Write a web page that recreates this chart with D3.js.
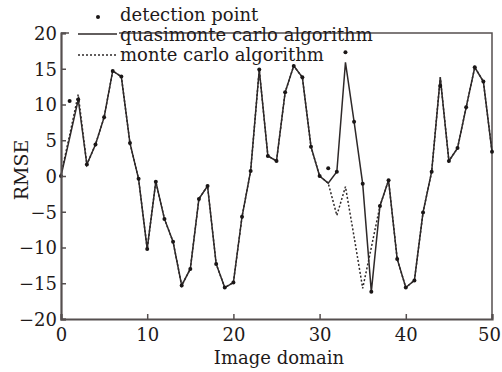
<!DOCTYPE html>
<html><head><meta charset="utf-8">
<script src="https://cdn.jsdelivr.net/npm/d3@7"></script>
<style>body{margin:0;background:#fff}svg{display:block}</style>
</head><body>
<script>
const xs = d3.range(0, 51);
const quasi = [0,5.3,10.7,1.6,4.4,8.2,14.7,13.9,4.6,-0.4,-10.2,-0.8,-6.0,-9.2,-15.3,-13.0,-3.2,-1.4,-12.3,-15.6,-14.9,-5.7,0.7,14.9,2.8,2.1,11.7,15.4,13.8,4.1,0,-1.0,0.6,15.9,7.6,-1.1,-16.2,-4.2,-0.6,-11.6,-15.6,-14.6,-5.1,0.6,13.8,2.1,3.9,9.6,15.2,13.2,3.4];
const monte = [0.2,5.7,11.4,1.6,4.4,8.2,14.7,13.9,4.6,-0.4,-10.2,-0.8,-6.0,-9.2,-15.3,-13.0,-3.2,-1.4,-12.3,-15.6,-14.9,-5.7,0.7,14.9,2.8,2.1,11.7,15.4,13.8,4.1,0,-1.0,-5.5,-1.5,-8.5,-15.7,-10.0,-4.2,-0.6,-11.6,-15.6,-14.6,-5.1,0.6,13.8,2.1,3.9,9.6,15.2,13.2,3.4];
const detect = [0,10.5,10.7,1.6,4.4,8.2,14.7,13.9,4.6,-0.4,-10.2,-0.8,-6.0,-9.2,-15.3,-13.0,-3.2,-1.4,-12.3,-15.6,-14.9,-5.7,0.7,14.9,2.8,2.1,11.7,15.4,13.8,4.1,0,1.1,0.6,17.3,7.6,-1.1,-16.2,-4.2,-0.6,-11.6,-15.6,-14.6,-5.1,0.6,12.6,2.1,3.9,9.6,15.2,13.2,3.4];
const xTicks = [0,10,20,30,40,50];
const yTicks = [-20,-15,-10,-5,0,5,10,15,20];
const legendLabels = ["detection point","quasimonte carlo algorithm","monte carlo algorithm"];

const W = 502, H = 372;
const L = 61, R = 492, T = 33, B = 319;
const ink = "#2e2929", frame = "#554f4f";
const font = "'DejaVu Serif', serif";

const svg = d3.select("body").append("svg").attr("width", W).attr("height", H);
const x = d3.scaleLinear().domain([0,50]).range([L,R]);
const y = d3.scaleLinear().domain([-20,20]).range([B,T]);

// frame top/right
svg.append("path").attr("d", `M${L},${T}H${R}V${B}`).attr("fill","none").attr("stroke",frame).attr("stroke-width",1.5);

const line = d3.line().x((d,i)=>x(xs[i])).y(d=>y(d));
svg.append("path").datum(monte).attr("d", line).attr("fill","none").attr("stroke",ink).attr("stroke-width",1.5).attr("stroke-dasharray","2,2");
svg.append("path").datum(quasi).attr("d", line).attr("fill","none").attr("stroke",ink).attr("stroke-width",1.5);
svg.append("g").selectAll("circle").data(detect).join("circle")
  .attr("cx",(d,i)=>x(xs[i])).attr("cy",d=>y(d)).attr("r",2).attr("fill","#1a1616");

// axes
const ax = svg.append("g").attr("transform",`translate(0,${B})`)
  .call(d3.axisBottom(x).tickValues(xTicks).tickSize(-5).tickPadding(8).tickFormat(d3.format("d")));
const ay = svg.append("g").attr("transform",`translate(${L},0)`)
  .call(d3.axisLeft(y).tickValues(yTicks).tickSize(-5).tickPadding(4).tickFormat(d=>d<0?"\u2212"+Math.abs(d):d));
[ax,ay].forEach(g=>{
  g.select(".domain").attr("stroke",frame).attr("stroke-width",2.2);
  g.selectAll(".tick line").attr("stroke",frame).attr("stroke-width",1.5);
  g.selectAll("text").attr("font-family",font).attr("font-size",18).attr("fill","#1e1a1a");
});
ay.selectAll("text").attr("dy","0.35em");
ax.selectAll("text").attr("dy","0.75em").attr("dx",d=>d===50?-3:0);

svg.append("text").attr("x",279).attr("y",364).attr("text-anchor","middle")
  .attr("font-family",font).attr("font-size",18).attr("fill","#1e1a1a").text("Image domain");
svg.append("text").attr("transform","translate(28,170) rotate(-90)").attr("text-anchor","middle")
  .attr("font-family",font).attr("font-size",19).attr("fill","#1e1a1a").text("RMSE");

// legend
const lg = svg.append("g");
lg.append("rect").attr("x",69).attr("y",29).attr("width",50).attr("height",9).attr("fill","#fff");
lg.append("circle").attr("cx",98).attr("cy",17).attr("r",2).attr("fill","#1a1616");
lg.append("line").attr("x1",78).attr("x2",117).attr("y1",34).attr("y2",34).attr("stroke",ink).attr("stroke-width",1.5);
lg.append("line").attr("x1",78).attr("x2",117).attr("y1",55).attr("y2",55).attr("stroke",ink).attr("stroke-width",1.5).attr("stroke-dasharray","2,2");
const lys = [21,41,61];
lg.selectAll("text.l").data(legendLabels).join("text")
  .attr("x",120).attr("y",(d,i)=>lys[i]).attr("font-family",font).attr("font-size",18).attr("fill","#1e1a1a").text(d=>d);
</script>
</body></html>
